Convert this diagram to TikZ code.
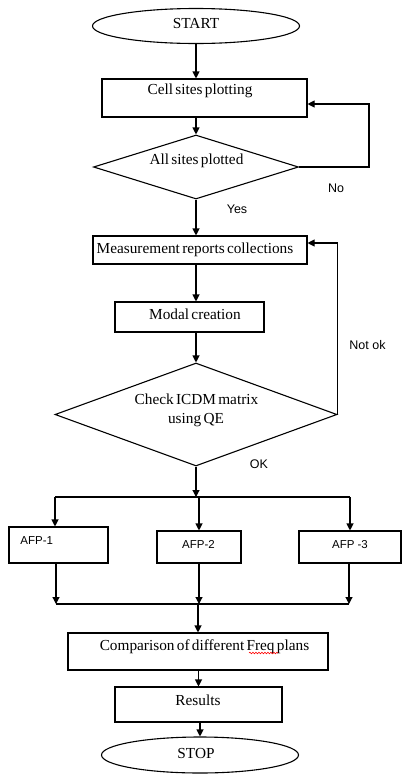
\documentclass[tikz,border=0pt]{standalone}
\usepackage{fontspec}
\setmainfont{Liberation Serif}[WordSpace=0.6]
\newfontfamily\lblfont{Liberation Sans}
\usetikzlibrary{arrows.meta,shapes.geometric,decorations.pathmorphing}
\begin{document}
\begin{tikzpicture}[x=1pt,y=-1pt,
  line width=1.1pt,
  arr/.style={-{Triangle[length=7pt,width=7pt]}},
  box/.style={draw, rectangle, inner sep=0pt},
  ell/.style={draw, ellipse, inner sep=0pt},
  dia/.style={draw, diamond, inner sep=0pt},
  txt/.style={font=\fontsize{15.3}{17}\selectfont, inner sep=0pt, anchor=base},
  lbl/.style={font=\lblfont\fontsize{12.5}{14}\selectfont, inner sep=0pt, anchor=base},
  afpl/.style={font=\lblfont\fontsize{11.5}{13}\selectfont, inner sep=0pt, anchor=base},
]
\useasboundingbox (0,0) rectangle (402,774);

% shapes
\node[ell, minimum width=207pt, minimum height=35pt] (start) at (196,26) {};
\node[box, minimum width=205pt, minimum height=38pt] (cell) at (204.5,98) {};
\node[dia, minimum width=205pt, minimum height=64pt] (dia1) at (196,167) {};
\node[box, minimum width=214pt, minimum height=28pt] (meas) at (200,250) {};
\node[box, minimum width=149pt, minimum height=30pt] (modal) at (189.5,317) {};
\node[dia, minimum width=282pt, minimum height=103pt] (dia2) at (196,414.5) {};
\node[box, minimum width=99pt, minimum height=36pt] (afp1) at (58.5,545) {};
\node[box, minimum width=84pt, minimum height=32pt] (afp2) at (199,547) {};
\node[box, minimum width=102pt, minimum height=32pt] (afp3) at (350,547) {};
\node[box, minimum width=260pt, minimum height=37pt] (comp) at (198,651.5) {};
\node[box, minimum width=167pt, minimum height=35pt] (results) at (198.5,704.5) {};
\node[ell, minimum width=197pt, minimum height=36pt] (stop) at (200,755) {};

% texts
\node[txt] (startt) at (196,28) {START};
\node[txt] (cellt) at (200,94) {Cell sites plotting};
\node[txt] (dia1t) at (196.5,164) {All sites plotted};
\node[txt] (meast) at (195,253) {Measurement reports collections};
\node[txt] (modalt) at (195,319) {Modal creation};
\node[txt] (dia2ta) at (196.5,404) {Check ICDM matrix};
\node[txt] (dia2tb) at (196,423) {using QE};
\node[txt] (compt) at (204.5,650) {Comparison of different Freq plans};
\node[txt] (resultst) at (198,705) {Results};
\node[txt] (stopt) at (196,758) {STOP};
\node[afpl] (afp1t) at (36.7,544) {AFP-1};
\node[afpl] (afp2t) at (198.5,548) {AFP-2};
\node[afpl] (afp3t) at (350,548) {AFP -3};

% labels
\node[lbl] (nol) at (336,192) {No};
\node[lbl] (yesl) at (237,213) {Yes};
\node[lbl] (notokl) at (367.5,349) {Not ok};
\node[lbl] (okl) at (259,468) {OK};

% helper coordinates
\coordinate (noc) at (369,104);
\coordinate (nok) at (337,243);
\coordinate (bar1L) at (55,497);
\coordinate (bar1R) at (350,497);
\coordinate (bar2L) at (56,604);
\coordinate (bar2M) at (198,604);
\coordinate (bar2R) at (349,604);

% connectors
\draw[arr] (start) -- (start |- cell.north);
\draw[arr] (cell.south -| dia1.north) -- (dia1.north);
\draw[arr] (dia1.east) -| (noc) -- (noc -| cell.east);
\draw[arr] (dia1.south) -- (dia1.south |- meas.north);
\draw[arr] (meas.south -| dia2.north) -- (dia2.north |- modal.north);
\draw[arr] (modal.south -| dia2.north) -- (dia2.north);
\draw[arr] (dia2.east) -- (dia2.east |- nok) -- (nok -| meas.east);
\draw[arr] (dia2.south) -- (dia2.south |- bar1L);
\draw (bar1L) -- (bar1R);
\draw[arr] (bar1L) -- (bar1L |- afp1.north);
\draw[arr] (afp2.north |- bar1L) -- (afp2.north);
\draw[arr] (bar1R) -- (bar1R |- afp3.north);
\draw[arr] (afp1.south -| bar2L) -- (bar2L);
\draw[arr] (afp2.south) -- (afp2.south |- bar2L);
\draw[arr] (afp3.south -| bar2R) -- (bar2R);
\draw (bar2L) -- (bar2R);
\draw[arr] (bar2M) -- (bar2M |- comp.north);
\draw[arr] (comp.south -| results.north) -- (results.north);
\draw[arr] (results.south -| stop.north) -- (stop.north);

% spell-check squiggle under "Freq"
\draw[red, line width=0.6pt, decorate, decoration={snake, amplitude=0.8pt, segment length=3pt}] (249,653) -- (278,653);
\end{tikzpicture}
\end{document}
